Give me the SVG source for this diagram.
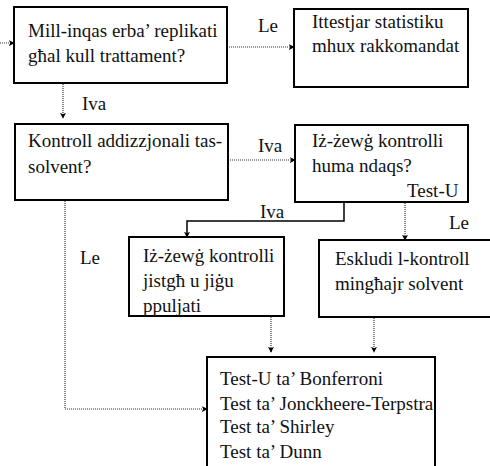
<svg xmlns="http://www.w3.org/2000/svg" width="490" height="466" viewBox="0 0 490 466">
<defs>
<marker id="ah" viewBox="0 0 8 8" refX="7" refY="4" markerWidth="6" markerHeight="6" orient="auto" markerUnits="userSpaceOnUse">
<path d="M0,0 L8,4 L0,8 L2,4 Z" fill="#000"/>
</marker>
</defs>
<style>
.box{fill:#fff;stroke:#000;stroke-width:2}
text{font-family:'Liberation Serif','DejaVu Serif',serif;font-size:19px;fill:#111}
.dot{fill:none;stroke:#333;stroke-width:1.2;stroke-dasharray:1,1}
.sol{fill:none;stroke:#000;stroke-width:1.5}
</style>
<rect width="490" height="466" fill="#fff"/>
<g id="connectors">
<path class="dot" d="M0,43 L14,43" marker-end="url(#ah)"/>
<path class="dot" d="M227,47 L294,47" marker-end="url(#ah)"/>
<path class="dot" d="M63,84 L63,118" marker-end="url(#ah)"/>
<path class="dot" d="M228,160 L295,160" marker-end="url(#ah)"/>
<path class="sol" d="M344,202 L344,221 L187,221 L187,237" marker-end="url(#ah)"/>
<path class="dot" d="M405,203 L405,240" marker-end="url(#ah)"/>
<path class="dot" d="M65,201 L65,409 L207,409" marker-end="url(#ah)"/>
<path class="dot" d="M271,317 L271,352" marker-end="url(#ah)"/>
<path class="dot" d="M374,318 L374,352" marker-end="url(#ah)"/>
<text x="258" y="32">Le</text>
<text x="82" y="110">Iva</text>
<text x="258" y="152">Iva</text>
<text x="260" y="218">Iva</text>
<text x="449" y="229">Le</text>
<text x="80" y="264">Le</text>
</g>
<g id="n1">
<rect class="box" x="14" y="7" width="213" height="76"/>
<text x="28" y="37">Mill-inqas erba’ replikati</text>
<text x="28" y="62">għal kull trattament?</text>
</g>
<g id="n2">
<rect class="box" x="294" y="9" width="174" height="78"/>
<text x="312" y="28">Ittestjar statistiku</text>
<text x="312" y="52">mhux rakkomandat</text>
</g>
<g id="n3">
<rect class="box" x="15" y="124" width="213" height="76"/>
<text x="28" y="147">Kontroll addizzjonali tas-</text>
<text x="28" y="173">solvent?</text>
</g>
<g id="n4">
<rect class="box" x="295" y="125" width="173" height="77"/>
<text x="312" y="147">Iż-żewġ kontrolli</text>
<text x="312" y="172">huma ndaqs?</text>
<text x="407" y="197">Test-U</text>
</g>
<g id="n5">
<rect class="box" x="129" y="237" width="155" height="79"/>
<text x="143" y="262">Iż-żewġ kontrolli</text>
<text x="143" y="287">jistgħ u jiġu</text>
<text x="143" y="312">ppuljati</text>
</g>
<g id="n6">
<rect class="box" x="319" y="240" width="175" height="77"/>
<text x="335" y="265">Eskludi l-kontroll</text>
<text x="335" y="290">mingħajr solvent</text>
</g>
<g id="n7">
<rect class="box" x="207" y="357" width="228" height="120"/>
<text x="220" y="385">Test-U ta’ Bonferroni</text>
<text x="220" y="410">Test ta’ Jonckheere-Terpstra</text>
<text x="220" y="433">Test ta’ Shirley</text>
<text x="220" y="458">Test ta’ Dunn</text>
</g>
</svg>
